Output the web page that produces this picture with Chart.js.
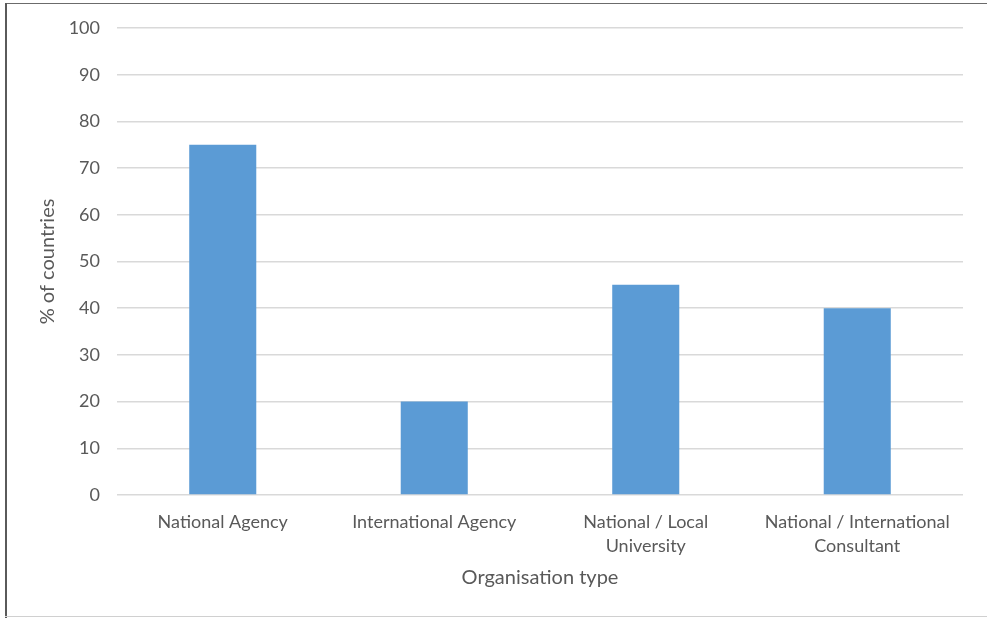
<!DOCTYPE html>
<html>
<head>
<meta charset="utf-8">
<script src="https://cdn.jsdelivr.net/npm/chart.js@4.4.1/dist/chart.umd.min.js"></script>
<style>
  html, body { margin: 0; padding: 0; background: #ffffff; }
  #wrap { position: relative; width: 987px; height: 618px; overflow: hidden; }
  #chart { position: absolute; left: 0; top: 0; }
  .edge { position: absolute; }
</style>
</head>
<body>
<div id="wrap">
  <canvas id="chart" width="987" height="618"></canvas>
  <div class="edge" style="left:5px;top:3px;width:982px;height:1px;background:#6b6b6b;"></div>
  <div class="edge" style="left:5px;top:3px;width:2px;height:615px;background:#5a5a5a;"></div>
  <div class="edge" style="left:5px;top:616px;width:982px;height:1px;background:#d0d0d0;"></div>
</div>
<script>
// Share of countries by type of organisation
const categories = [
  'National Agency',
  'International Agency',
  ['National / Local', 'University'],
  ['National / International', 'Consultant']
];
const percentValues = [75, 20, 45, 40];
const yTickMin = 0;
const yTickMax = 100;
const yTickStep = 10;

const textColor = '#595959';
const fontFamily = "Lato, 'Open Sans', 'DejaVu Sans', sans-serif";

new Chart(document.getElementById('chart'), {
  type: 'bar',
  data: {
    labels: categories,
    datasets: [{
      label: '% of countries',
      data: percentValues,
      backgroundColor: '#5b9bd5',
      borderWidth: 0,
      categoryPercentage: 1.0,
      barPercentage: 0.317
    }]
  },
  options: {
    responsive: false,
    animation: false,
    layout: { padding: { top: 28, right: 24, bottom: 0, left: 0 } },
    plugins: {
      legend: { display: false },
      tooltip: { enabled: false }
    },
    scales: {
      x: {
        grid: { display: false, drawTicks: false },
        border: { display: false },
        ticks: {
          color: textColor,
          font: { family: fontFamily, size: 18, lineHeight: 1.33 },
          padding: 15,
          maxRotation: 0,
          autoSkip: false
        },
        title: {
          display: true,
          text: 'Organisation type',
          color: textColor,
          font: { family: fontFamily, size: 20 },
          padding: { top: 0, bottom: 28 }
        },
        afterFit: (scale) => { scale.height = 123; }
      },
      y: {
        min: yTickMin,
        max: yTickMax,
        grid: { color: '#d9d9d9', lineWidth: 1.5, drawTicks: false },
        border: { display: false },
        ticks: {
          stepSize: yTickStep,
          color: textColor,
          font: { family: fontFamily, size: 18 },
          padding: 17
        },
        title: {
          display: true,
          text: '% of countries',
          color: textColor,
          font: { family: fontFamily, size: 20 },
          padding: { top: 36, bottom: 0 }
        },
        afterFit: (scale) => { scale.width = 117; }
      }
    }
  }
});
</script>
</body>
</html>
